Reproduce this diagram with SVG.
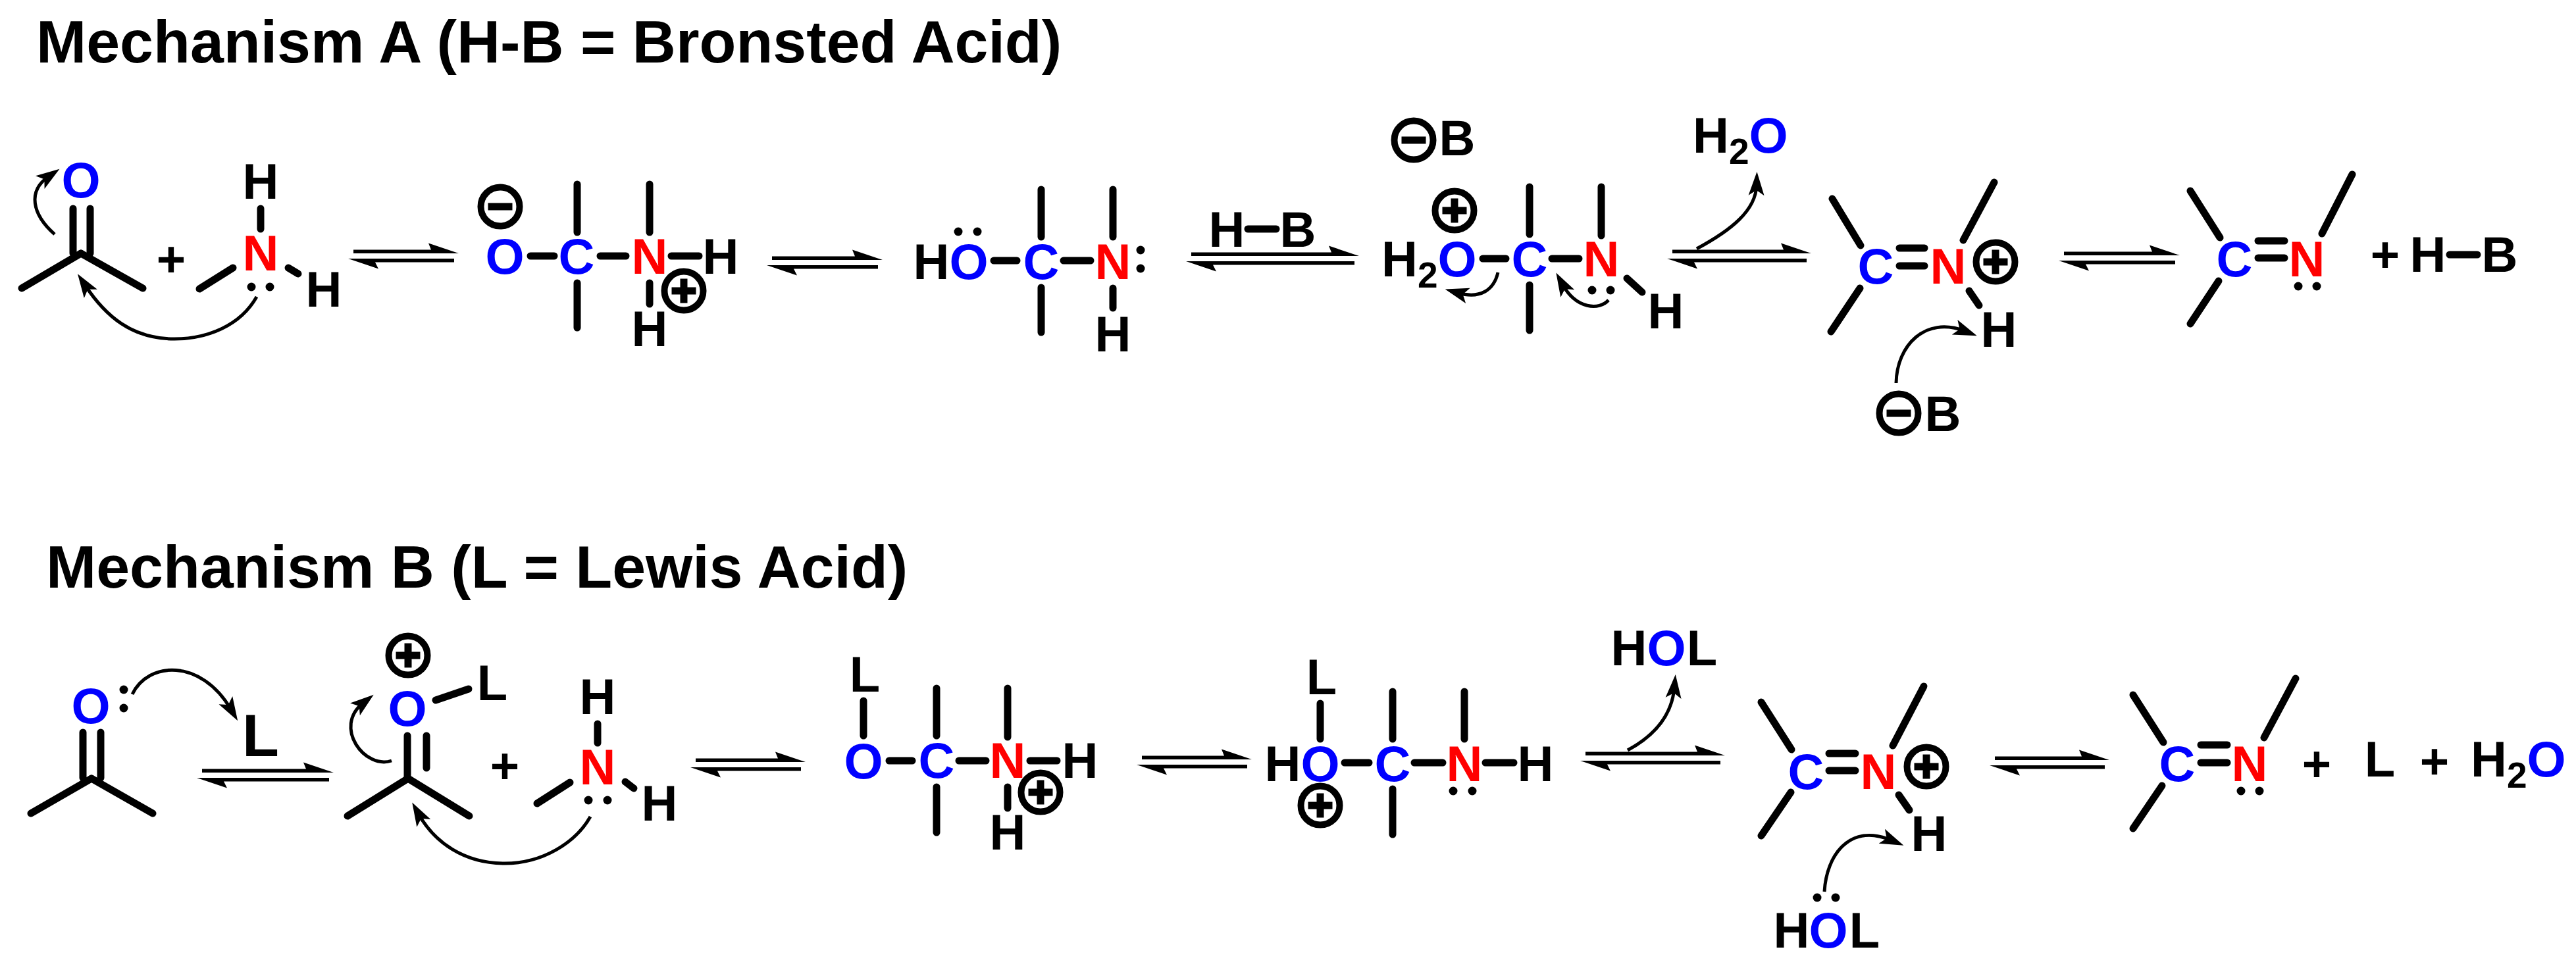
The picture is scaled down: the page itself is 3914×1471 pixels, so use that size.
<svg xmlns="http://www.w3.org/2000/svg" width="3914" height="1471" viewBox="0 0 3914 1471">
<style>
text{font-family:"Liberation Sans",Arial,sans-serif;font-weight:700;font-size:76px;fill:#000}
.m{text-anchor:middle}
.t{font-size:91.5px}
.o{fill:#00f}
.c{fill:#00f}
.n{fill:#f00}
.s{font-size:55px}
line{stroke:#000;stroke-width:11;stroke-linecap:round;fill:none}
circle.d{fill:#000;stroke:none;r:6.5px}
.ring{fill:none;stroke:#000;stroke-width:10}
.bar{stroke-linecap:butt;stroke-width:11}
.ca{fill:none;stroke:#000;stroke-width:5;marker-end:url(#head)}
.eq{fill:#000;stroke:none}
</style>
<defs>
<marker id="head" markerUnits="userSpaceOnUse" markerWidth="40" markerHeight="30" viewBox="0 0 40 30" refX="16" refY="15" orient="auto"><path d="M36,15L0,3L8,15L0,27z" fill="#000"/></marker>
<g id="plus"><circle class="ring" r="29.5"/><line class="bar" x1="-18.5" x2="18.5"/><line class="bar" y1="-18.5" y2="18.5"/></g>
<g id="minus"><circle class="ring" r="29.5"/><line class="bar" x1="-18.5" x2="18.5"/></g>
</defs>
<rect width="3914" height="1471" fill="#fff"/>
<g id="title-a"><text class="t" x="55" y="95">Mechanism A (H-B = Bronsted Acid)</text></g>
<g id="title-b"><text class="t" x="70" y="893">Mechanism B (L = Lewis Acid)</text></g>

<g id="a-ketone">
<text class="m o" x="123" y="300">O</text>
<line x1="111" y1="317" x2="111" y2="385"/><line x1="137" y1="317" x2="137" y2="385"/>
<line x1="123" y1="385" x2="33" y2="438"/><line x1="123" y1="385" x2="217" y2="438"/>
</g>
<g id="a-plus1"><text class="m" x="260" y="420">+</text></g>
<g id="a-amine">
<text class="m n" x="396" y="411">N</text><text class="m" x="396" y="302">H</text><text class="m" x="492" y="466">H</text>
<line x1="396" y1="317" x2="396" y2="348"/><line x1="354" y1="407" x2="303" y2="439"/><line x1="438" y1="407" x2="453" y2="416"/>
<circle class="d" cx="382" cy="436"/><circle class="d" cx="410" cy="436"/>
</g>
<g id="a-intermediate1">
<use href="#minus" x="760" y="314"/>
<text class="m o" x="767" y="416">O</text><text class="m c" x="876" y="416">C</text><text class="m n" x="987" y="416">N</text><text class="m" x="1095" y="416">H</text><text class="m" x="987" y="526">H</text>
<line x1="806" y1="389" x2="842" y2="389"/><line x1="912" y1="389" x2="951" y2="389"/><line x1="1020" y1="389" x2="1062" y2="389"/>
<line x1="877" y1="280" x2="877" y2="353"/><line x1="877" y1="430" x2="877" y2="498"/><line x1="987" y1="280" x2="987" y2="353"/><line x1="987" y1="430" x2="987" y2="462"/>
<use href="#plus" x="1039" y="442"/>
</g>
<g id="a-intermediate2">
<text class="m" x="1415" y="424">H</text><text class="m o" x="1472" y="424">O</text><text class="m c" x="1582" y="424">C</text><text class="m n" x="1691" y="424">N</text><text class="m" x="1691" y="534">H</text>
<circle class="d" cx="1456" cy="352"/><circle class="d" cx="1485" cy="352"/><circle class="d" cx="1733" cy="380"/><circle class="d" cx="1733" cy="408"/>
<line x1="1510" y1="396" x2="1545" y2="396"/><line x1="1616" y1="396" x2="1657" y2="396"/>
<line x1="1582" y1="288" x2="1582" y2="360"/><line x1="1582" y1="437" x2="1582" y2="505"/><line x1="1691" y1="288" x2="1691" y2="360"/><line x1="1691" y1="438" x2="1691" y2="468"/>
</g>
<g id="a-hb-reagent"><text class="m" x="1864" y="375">H</text><text class="m" x="1972" y="375">B</text><line x1="1896" y1="348" x2="1939" y2="348"/></g>
<g id="a-base1"><use href="#minus" x="2148" y="213"/><text class="m" x="2214" y="236">B</text></g>
<g id="a-intermediate3">
<use href="#plus" x="2210" y="320"/>
<text x="2099" y="420">H<tspan class="s" dy="17">2</tspan><tspan class="o" dy="-17">O</tspan></text>
<text class="m c" x="2324" y="420">C</text><text class="m n" x="2433" y="420">N</text><text class="m" x="2531" y="499">H</text>
<line x1="2253" y1="393" x2="2288" y2="393"/><line x1="2358" y1="393" x2="2399" y2="393"/>
<line x1="2324" y1="284" x2="2324" y2="356"/><line x1="2324" y1="433" x2="2324" y2="502"/><line x1="2433" y1="284" x2="2433" y2="358"/>
<line x1="2472" y1="423" x2="2495" y2="444"/>
<circle class="d" cx="2419" cy="441"/><circle class="d" cx="2447" cy="441"/>
</g>
<g id="a-water"><text x="2572" y="232">H<tspan class="s" dy="17">2</tspan><tspan class="o" dy="-17">O</tspan></text></g>
<g id="a-iminium">
<text class="m c" x="2850" y="431">C</text><text class="m n" x="2960" y="431">N</text><text class="m" x="3037" y="527">H</text>
<use href="#plus" x="3032" y="398"/>
<line x1="2886" y1="377" x2="2924" y2="377"/><line x1="2886" y1="404" x2="2924" y2="404"/>
<line x1="2784" y1="302" x2="2827" y2="373"/><line x1="2826" y1="438" x2="2782" y2="504"/><line x1="2983" y1="365" x2="3030" y2="277"/><line x1="2992" y1="442" x2="3007" y2="464"/>
</g>
<g id="a-base2"><use href="#minus" x="2885" y="628"/><text class="m" x="2952" y="655">B</text></g>
<g id="a-imine">
<text class="m c" x="3395" y="420">C</text><text class="m n" x="3505" y="420">N</text>
<line x1="3431" y1="366" x2="3471" y2="366"/><line x1="3431" y1="392" x2="3471" y2="392"/>
<line x1="3328" y1="290" x2="3373" y2="361"/><line x1="3371" y1="427" x2="3328" y2="492"/><line x1="3528" y1="355" x2="3574" y2="265"/>
<circle class="d" cx="3492" cy="435"/><circle class="d" cx="3520" cy="435"/>
</g>
<g id="a-products"><text class="m" x="3624" y="413">+</text><text class="m" x="3689" y="413">H</text><text class="m" x="3798" y="413">B</text><line x1="3722" y1="387" x2="3764" y2="387"/></g>

<g id="b-ketone">
<text class="m o" x="138" y="1099">O</text>
<circle class="d" cx="188" cy="1048"/><circle class="d" cx="188" cy="1076"/>
<line x1="126" y1="1113" x2="126" y2="1182"/><line x1="153" y1="1113" x2="153" y2="1182"/>
<line x1="139" y1="1183" x2="47" y2="1236"/><line x1="139" y1="1183" x2="232" y2="1236"/>
</g>
<g id="b-lewis"><text class="m t" x="396" y="1149">L</text></g>
<g id="b-activated">
<use href="#plus" x="620" y="996"/>
<text class="m o" x="619" y="1103">O</text><text class="m" x="748" y="1064">L</text>
<line x1="662" y1="1064" x2="712" y2="1047"/>
<line x1="619" y1="1118" x2="619" y2="1181"/><line x1="648" y1="1118" x2="648" y2="1167"/>
<line x1="620" y1="1183" x2="528" y2="1240"/><line x1="620" y1="1183" x2="713" y2="1240"/>
</g>
<g id="b-plus1"><text class="m" x="767" y="1190">+</text></g>
<g id="b-amine">
<text class="m n" x="908" y="1192">N</text><text class="m" x="908" y="1085">H</text><text class="m" x="1002" y="1247">H</text>
<line x1="908" y1="1100" x2="908" y2="1129"/><line x1="866" y1="1189" x2="816" y2="1221"/><line x1="950" y1="1188" x2="963" y2="1198"/>
<circle class="d" cx="894" cy="1216"/><circle class="d" cx="923" cy="1216"/>
</g>
<g id="b-intermediate1">
<text class="m" x="1314" y="1051">L</text>
<text class="m o" x="1312" y="1183">O</text><text class="m c" x="1423" y="1182">C</text><text class="m n" x="1531" y="1182">N</text><text class="m" x="1641" y="1182">H</text><text class="m" x="1531" y="1291">H</text>
<line x1="1312" y1="1065" x2="1312" y2="1118"/><line x1="1351" y1="1156" x2="1386" y2="1156"/><line x1="1457" y1="1156" x2="1498" y2="1156"/><line x1="1565" y1="1156" x2="1606" y2="1156"/>
<line x1="1423" y1="1046" x2="1423" y2="1118"/><line x1="1423" y1="1196" x2="1423" y2="1265"/><line x1="1531" y1="1046" x2="1531" y2="1120"/><line x1="1531" y1="1196" x2="1531" y2="1228"/>
<use href="#plus" x="1581" y="1204"/>
</g>
<g id="b-intermediate2">
<text class="m" x="2008" y="1055">L</text>
<text class="m" x="1949" y="1187">H</text><text class="m o" x="2006" y="1187">O</text><text class="m c" x="2116" y="1187">C</text><text class="m n" x="2225" y="1187">N</text><text class="m" x="2333" y="1187">H</text>
<line x1="2006" y1="1069" x2="2006" y2="1123"/><line x1="2043" y1="1159" x2="2080" y2="1159"/><line x1="2149" y1="1159" x2="2192" y2="1159"/><line x1="2257" y1="1159" x2="2300" y2="1159"/>
<line x1="2116" y1="1051" x2="2116" y2="1123"/><line x1="2116" y1="1199" x2="2116" y2="1268"/><line x1="2225" y1="1051" x2="2225" y2="1123"/>
<circle class="d" cx="2208" cy="1202"/><circle class="d" cx="2237" cy="1202"/>
<use href="#plus" x="2006" y="1224"/>
</g>
<g id="b-hol1"><text class="m" x="2475" y="1011">H</text><text class="m o" x="2532" y="1011">O</text><text class="m" x="2586" y="1011">L</text></g>
<g id="b-iminium">
<text class="m c" x="2744" y="1199">C</text><text class="m n" x="2854" y="1199">N</text><text class="m" x="2931" y="1293">H</text>
<use href="#plus" x="2927" y="1165"/>
<line x1="2779" y1="1145" x2="2819" y2="1145"/><line x1="2779" y1="1171" x2="2819" y2="1171"/>
<line x1="2676" y1="1067" x2="2722" y2="1139"/><line x1="2721" y1="1204" x2="2676" y2="1270"/><line x1="2876" y1="1133" x2="2923" y2="1043"/><line x1="2885" y1="1208" x2="2901" y2="1231"/>
</g>
<g id="b-hol2">
<text class="m" x="2722" y="1440">H</text><text class="m o" x="2778" y="1440">O</text><text class="m" x="2833" y="1440">L</text>
<circle class="d" cx="2761" cy="1364"/><circle class="d" cx="2789" cy="1364"/>
</g>
<g id="b-imine">
<text class="m c" x="3308" y="1187">C</text><text class="m n" x="3418" y="1187">N</text>
<line x1="3344" y1="1132" x2="3384" y2="1132"/><line x1="3344" y1="1159" x2="3384" y2="1159"/>
<line x1="3241" y1="1056" x2="3287" y2="1128"/><line x1="3285" y1="1194" x2="3241" y2="1259"/><line x1="3440" y1="1121" x2="3488" y2="1031"/>
<circle class="d" cx="3405" cy="1202"/><circle class="d" cx="3433" cy="1202"/>
</g>
<g id="b-products"><text class="m" x="3520" y="1187">+</text><text class="m" x="3616" y="1180">L</text><text class="m" x="3699" y="1183">+</text><text x="3754" y="1180">H<tspan class="s" dy="17">2</tspan><tspan class="o" dy="-17">O</tspan></text></g>

<g id="connectors">
<path class="eq" d="M537,379.5H655l-4,-10l46,15.5H537zM529,393H690v5.5H570l5,10z"/>
<path class="eq" d="M1173,389.5H1299l-4,-10l46,15.5H1173zM1165,403H1334v5.5H1206l5,10z"/>
<path class="eq" d="M1810,383.5H2023l-4,-10l46,15.5H1810zM1802,397H2058v5.5H1843l5,10z"/>
<path class="eq" d="M2541,379.5H2710l-4,-10l46,15.5H2541zM2533,393H2745v5.5H2574l5,10z"/>
<path class="eq" d="M3136,382.5H3270l-4,-10l46,15.5H3136zM3128,396H3305v5.5H3169l5,10z"/>
<path class="eq" d="M307,1168.5H465l-4,-10l46,15.5H307zM299,1182H500v5.5H340l5,10z"/>
<path class="eq" d="M1057,1152.5H1182l-4,-10l46,15.5H1057zM1049,1166H1217v5.5H1090l5,10z"/>
<path class="eq" d="M1735,1148.5H1860l-4,-10l46,15.5H1735zM1727,1162H1895v5.5H1768l5,10z"/>
<path class="eq" d="M2409,1142.5H2579l-4,-10l46,15.5H2409zM2401,1156H2614v5.5H2442l5,10z"/>
<path class="eq" d="M3031,1149.5H3163l-4,-10l46,15.5H3031zM3023,1163H3198v5.5H3064l5,10z"/>
<path class="ca" d="M83,356C48,325 42,290 74,268"/>
<path class="ca" d="M390,451C365,495 315,515 265,515C200,515 160,480 129,433"/>
<path class="ca" d="M2276,414C2270,440 2250,455 2215,445"/>
<path class="ca" d="M2444,456C2430,472 2395,470 2374,432"/>
<path class="ca" d="M2578,378C2630,350 2668,320 2669,281"/>
<path class="ca" d="M2881,582C2882,525 2925,480 2985,503"/>
<path class="ca" d="M201,1055C225,1005 305,1000 351,1078"/>
<path class="ca" d="M595,1156C555,1170 505,1105 552,1068"/>
<path class="ca" d="M897,1241C875,1280 825,1312 767,1312C705,1312 660,1280 636,1237"/>
<path class="ca" d="M2473,1140C2510,1120 2540,1090 2544,1045"/>
<path class="ca" d="M2772,1355C2775,1300 2810,1250 2874,1277"/>
</g>
</svg>
